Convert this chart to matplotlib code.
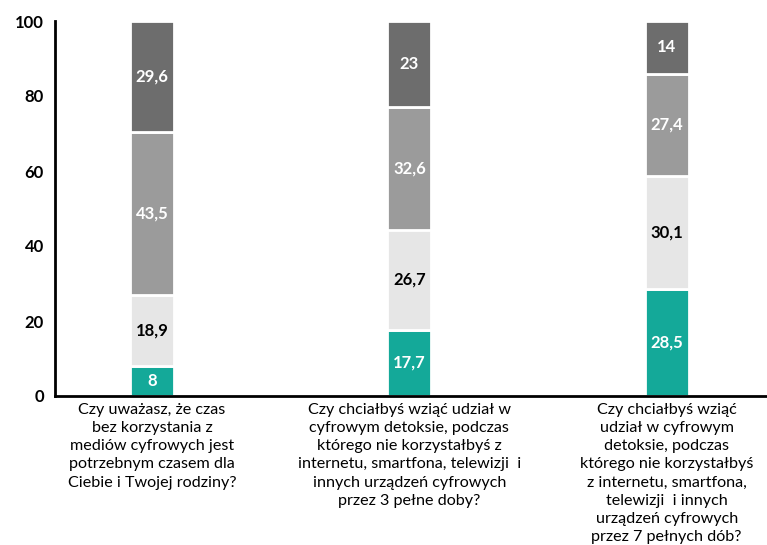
import matplotlib.pyplot as plt
import numpy as np

categories = [
    "Czy uważasz, że czas\nbez korzystania z\nmediów cyfrowych jest\npotrzebnym czasem dla\nCiebie i Twojej rodziny?",
    "Czy chciałbyś wziąć udział w\ncyfrowym detoksie, podczas\nktórego nie korzystałbyś z\ninternetu, smartfona, telewizji  i\ninnych urządzeń cyfrowych\nprzez 3 pełne doby?",
    "Czy chciałbyś wziąć\nudział w cyfrowym\ndetoksie, podczas\nktórego nie korzystałbyś\nz internetu, smartfona,\ntelewizji  i innych\nurządzeń cyfrowych\nprzez 7 pełnych dób?",
]
s1 = [8, 17.7, 28.5]
s2 = [18.9, 26.7, 30.1]
s3 = [43.5, 32.6, 27.4]
s4 = [29.6, 23, 14]
labels1 = ["8", "17,7", "28,5"]
labels2 = ["18,9", "26,7", "30,1"]
labels3 = ["43,5", "32,6", "27,4"]
labels4 = ["29,6", "23", "14"]

colors = ["#14a999", "#e6e6e6", "#9b9b9b", "#6d6d6d"]
text_colors = ["white", "black", "white", "white"]

plt.rcParams['font.family'] = ['Lato', 'DejaVu Sans']

fig = plt.figure(figsize=(7.67, 5.45), dpi=100)
ax = fig.add_axes([55 / 767, 1 - 396 / 545, 1 - 55 / 767, (396 - 21) / 545])

x = np.arange(len(categories))
bottom = np.zeros(len(categories))
for vals, labs, c, tc in zip([s1, s2, s3, s4], [labels1, labels2, labels3, labels4], colors, text_colors):
    bars = ax.bar(x, vals, bottom=bottom, width=0.17, color=c, edgecolor="white", linewidth=2)
    ax.bar_label(bars, labels=labs, label_type="center", color=tc, fontsize=12, fontweight="bold")
    bottom += np.array(vals)

ax.set_xlim(-0.377, 2.39)
ax.set_ylim(0, 100)
ax.set_yticks([0, 20, 40, 60, 80, 100])
ax.tick_params(axis="y", length=0, pad=8, labelsize=12)
for t in ax.get_yticklabels():
    t.set_fontweight("bold")
ax.set_xticks(x)
ax.set_xticklabels(categories, fontsize=11.6, linespacing=1.38)
ax.tick_params(axis="x", length=0, pad=5)

for s in ["top", "right"]:
    ax.spines[s].set_visible(False)
for s in ["left", "bottom"]:
    ax.spines[s].set_linewidth(2)
    ax.spines[s].set_color("black")

fig.savefig("out.png", dpi=100)
